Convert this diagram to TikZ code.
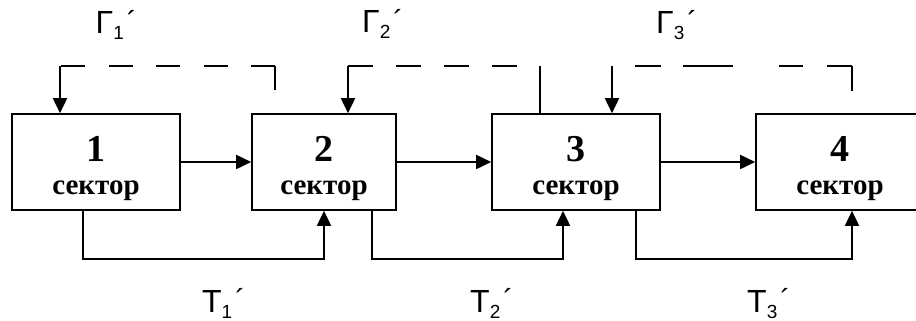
\documentclass[tikz,border=0pt]{standalone}
\usepackage{fontspec}
\setmainfont{Liberation Serif}
\newfontfamily\lblfont{Liberation Sans}
\usetikzlibrary{arrows.meta}
\newcommand{\primelbl}[2]{{\fontsize{32}{32}\selectfont #1}\raisebox{-6pt}{\fontsize{19}{19}\selectfont #2}\hspace{3pt}\raisebox{1.5pt}{\fontsize{30}{30}\selectfont ´}}
\tikzset{
  sectorbox/.style={draw,line width=1.6pt,minimum height=96pt,inner sep=0pt},
  numtext/.style={font=\fontsize{38}{38}\selectfont\bfseries,inner sep=0pt,anchor=base},
  sectext/.style={font=\fontsize{29}{29}\selectfont\bfseries,inner sep=0pt,anchor=base},
  lbl/.style={font=\lblfont,inner sep=0pt,anchor=base west},
  arr/.style={-{Triangle[length=15pt,width=14pt]},line width=1.6pt},
  link/.style={line width=1.6pt},
}
\begin{document}
\begin{tikzpicture}[x=1pt,y=-1pt]
\useasboundingbox (0,0) rectangle (916,321);
\clip (0,0) rectangle (916,321);
% sectors
\foreach \i/\x/\w in {1/96/168,2/324/144,3/576/168,4/840/168}{
    \node[sectorbox,minimum width=\w pt] (b\i) at (\x,162) {};
    \node[numtext] (n\i) at (b\i.center |- 0,161) {\i};
    \node[sectext] (s\i) at (b\i.center |- 0,194) {сектор};
}
\foreach \a/\b in {1/2,2/3,3/4}{
    \draw[arr] (b\a.east)--(b\b.west);
}
% lower links
\draw[arr] ([xshift=-13pt]b1.south)--++(0,48)-|(b2.south);
\draw[arr] ([xshift=48pt]b2.south)--++(0,48)-|([xshift=-13pt]b3.south);
\draw[arr] ([xshift=60pt]b3.south)--++(0,48)-|([xshift=12pt]b4.south);
% upper feedback
\coordinate (g1a) at (275,90);
\coordinate (g1b) at (275,66);
\coordinate (g1c) at (60,66);
\draw[link] (g1a)--(g1b);
\draw[link,dash pattern=on 24pt off 23.5pt] (g1b)--(g1c);
\draw[arr] (g1c)--(g1c |- b1.north);
\coordinate (g2a) at (348,66);
\coordinate (g2b) at (540,66);
\draw[link,dash pattern=on 25pt off 23pt] (g2a)--(g2b);
\draw[link] (g2b)--(g2b |- b3.north);
\draw[arr] (g2a)--(g2a |- b2.north);
\coordinate (g3a) at (852,91);
\coordinate (g3b) at (852,66);
\coordinate (g3c) at (612,66);
\draw[link] (g3a)--(g3b);
\draw[link,dash pattern=on 25pt off 24pt on 24pt off 46pt on 50pt off 22pt on 26pt off 23pt] (g3b)--(g3c);
\draw[arr] (g3c)--(g3c |- b3.north);
% labels
\node[lbl] (G1) at (95.5,34) {\primelbl{Γ}{1}};
\node[lbl] (G2) at (362,33) {\primelbl{Γ}{2}};
\node[lbl] (G3) at (656,34) {\primelbl{Γ}{3}};
\node[lbl] (T1) at (202,312) {\primelbl{T}{1}};
\node[lbl] (T2) at (470,312) {\primelbl{T}{2}};
\node[lbl] (T3) at (747,312) {\primelbl{T}{3}};
\end{tikzpicture}
\end{document}
